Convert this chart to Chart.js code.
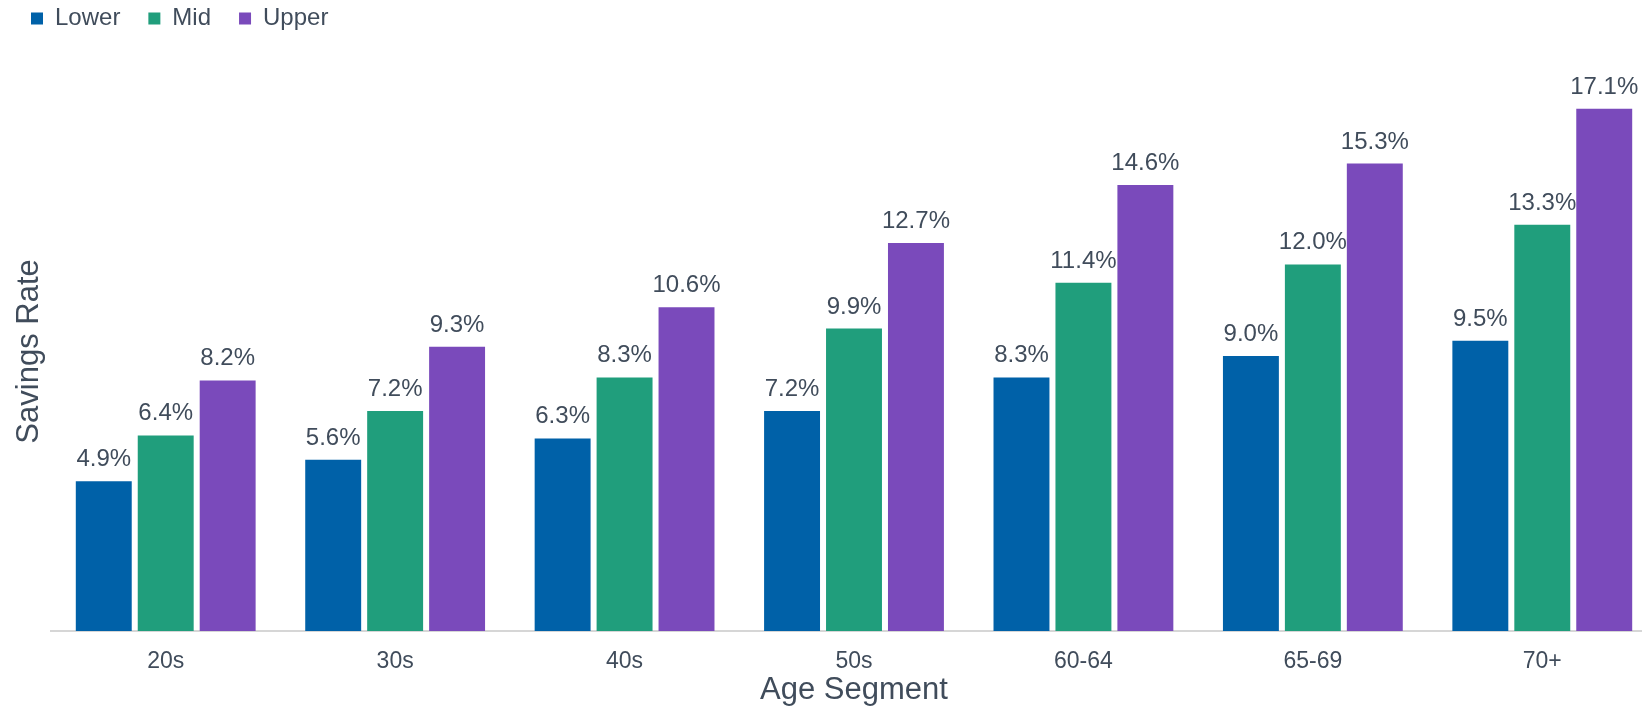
<!DOCTYPE html>
<html lang="en">
<head>
<meta charset="UTF-8">
<title>Savings Rate by Age Segment</title>
<script src="https://cdn.jsdelivr.net/npm/chart.js@4.4.1/dist/chart.umd.min.js"></script>
<style>
  html, body { margin: 0; padding: 0; background: #fff; overflow: hidden; }
  #wrap { width: 1642px; height: 708px; overflow: hidden; }
</style>
</head>
<body>
<div id="wrap"><canvas id="chart" width="1660" height="708"></canvas></div>
<script>
// age buckets along the x axis
const ageSegments = ['20s', '30s', '40s', '50s', '60-64', '65-69', '70+'];

// savings rate (%) per income band
const lowerRates = [4.9, 5.6, 6.3, 7.2, 8.3, 9.0, 9.5];
const midRates = [6.4, 7.2, 8.3, 9.9, 11.4, 12.0, 13.3];
const upperRates = [8.2, 9.3, 10.6, 12.7, 14.6, 15.3, 17.1];

const textColor = '#404c5b';
const fontFamily = '"Liberation Sans", Arial, sans-serif';

// value labels above each bar
const barLabels = {
    id: 'barLabels',
    afterDatasetsDraw(chart) {
        const ctx = chart.ctx;
        ctx.save();
        ctx.font = '24px ' + fontFamily;
        ctx.fillStyle = textColor;
        ctx.textAlign = 'center';
        ctx.textBaseline = 'alphabetic';
        chart.data.datasets.forEach((ds, i) => {
            chart.getDatasetMeta(i).data.forEach((bar, j) => {
                ctx.fillText(ds.data[j].toFixed(1) + '%', bar.x, bar.y - 15);
            });
        });
        ctx.restore();
    }
};

new Chart(document.getElementById('chart'), {
    type: 'bar',
    data: {
        labels: ageSegments,
        datasets: [
            { label: 'Lower', data: lowerRates, backgroundColor: '#0061a8' },
            { label: 'Mid', data: midRates, backgroundColor: '#209e7c' },
            { label: 'Upper', data: upperRates, backgroundColor: '#7a4abb' }
        ]
    },
    options: {
        responsive: false,
        animation: false,
        barPercentage: 0.903,
        categoryPercentage: 0.81,
        layout: { padding: { left: 3, right: 3, top: -21.5, bottom: 0 } },
        plugins: {
            tooltip: { enabled: false },
            legend: {
                position: 'top',
                align: 'start',
                labels: {
                    boxWidth: 12,
                    boxHeight: 12,
                    padding: 28,
                    color: textColor,
                    font: { family: fontFamily, size: 24, lineHeight: 1 }
                }
            },
            // empty subtitle used as a gap between the legend and the bars
            subtitle: {
                display: true,
                text: '',
                weight: 500,
                padding: { top: 19.5, bottom: 0 },
                font: { size: 12, lineHeight: 1 }
            }
        },
        scales: {
            x: {
                grid: { display: false, drawTicks: false },
                border: { display: true, color: '#d6d6d6', width: 2 },
                ticks: { color: textColor, padding: 17, font: { family: fontFamily, size: 23 } },
                title: {
                    display: true,
                    text: 'Age Segment',
                    color: textColor,
                    padding: { top: -18, bottom: 2.5 },
                    font: { family: fontFamily, size: 31, lineHeight: 1 }
                }
            },
            y: {
                min: 0,
                max: 18.3,
                grid: { display: false, drawTicks: false },
                border: { display: false },
                ticks: { display: false },
                title: {
                    display: true,
                    text: 'Savings Rate',
                    color: textColor,
                    padding: { top: 10.5, bottom: 6.5 },
                    font: { family: fontFamily, size: 31, lineHeight: 1 }
                }
            }
        }
    },
    plugins: [barLabels]
});
</script>
</body>
</html>
